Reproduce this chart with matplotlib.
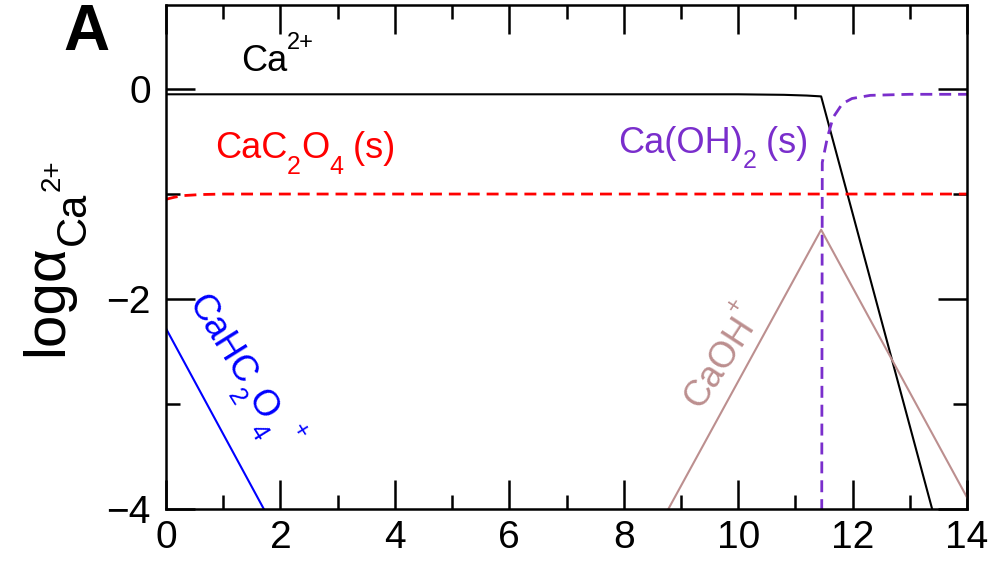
import math
import matplotlib
matplotlib.use("Agg")
import matplotlib.pyplot as plt
from matplotlib.ticker import MultipleLocator
from matplotlib.font_manager import findfont, FontProperties
from matplotlib.ft2font import FT2Font

FAMILY = 'Liberation Sans'
plt.rcParams['font.family'] = [FAMILY, 'DejaVu Sans']

# ---- data ----
ph_ca = [0.0, 10.0, 10.8, 11.2, 11.45, 13.39]
log_ca = [-0.05, -0.05, -0.055, -0.062, -0.07, -4.0]

ph_cac2o4 = [0.0, 0.15, 0.3, 0.6, 1.0, 14.0]
log_cac2o4 = [-1.05, -1.03, -1.015, -1.005, -1.0, -1.0]

ph_caoh2 = [11.46, 11.47, 11.56, 11.66, 11.82, 11.99, 12.31, 13.0, 14.0]
log_caoh2 = [-4.2, -0.7, -0.46, -0.27, -0.14, -0.09, -0.06, -0.05, -0.05]

ph_cahc2o4 = [0.0, 1.71]
log_cahc2o4 = [-2.28, -4.0]

ph_caoh = [8.78, 11.45, 14.0]
log_caoh = [-4.0, -1.34, -3.89]

xticks = [0, 2, 4, 6, 8, 10, 12, 14]
yticks = [-4, -2, 0]
ytick_labels = ['\u22124', '\u22122', '0']

# ---- helpers for rich (sub/superscript) labels ----
_font = FT2Font(findfont(FontProperties(family=FAMILY)))
_font.set_size(100, 72)


def advance(s, size):
    tot = 0.0
    for ch in s:
        g = _font.load_char(ord(ch))
        tot += g.linearHoriAdvance / 65536.0
    return tot * size / 100.0


def rich_text(ax, xy, pieces, color, rotation=0.0, xycoords='data',
              center=False):
    th = math.radians(rotation)
    c, s_ = math.cos(th), math.sin(th)
    total = sum(advance(t, sz) for t, sz, _ in pieces)
    a = -total / 2.0 if center else 0.0
    for t, sz, sh in pieces:
        dx = a * c - sh * s_
        dy = a * s_ + sh * c
        ax.annotate(t, xy=xy, xycoords=xycoords, xytext=(dx, dy),
                    textcoords='offset points', fontsize=sz,
                    color=color, rotation=rotation,
                    rotation_mode='anchor', ha='left',
                    va='baseline', annotation_clip=False)
        a += advance(t, sz)


fig = plt.figure(figsize=(9.95, 5.62), dpi=100)
ax = fig.add_axes([0.1668, 0.0943, 0.8051, 0.8967])

lw = 1.5
dlw = 2.0
ax.plot(ph_ca, log_ca, color='black', lw=lw)
ax.plot(ph_cac2o4, log_cac2o4, color='#ff0000', lw=dlw, ls=(0, (4.3, 2.5)))
ax.plot(ph_caoh2, log_caoh2, color='#7a2ecc', lw=dlw, ls=(0, (4.3, 2.5)))
ax.plot(ph_cahc2o4, log_cahc2o4, color='#0000ff', lw=lw)
ax.plot(ph_caoh, log_caoh, color='#bc8f8f', lw=lw)

ax.set_xlim(0, 14)
ax.set_ylim(-4, 0.8)
ax.set_xticks(xticks)
ax.set_yticks(yticks)
ax.set_xticklabels([str(t) for t in xticks])
ax.set_yticklabels(ytick_labels)
ax.xaxis.set_minor_locator(MultipleLocator(1))
ax.yaxis.set_minor_locator(MultipleLocator(1))
ax.tick_params(which='both', direction='in', top=True, right=True, width=1.8)
ax.tick_params(which='major', length=21, labelsize=28)
ax.tick_params(axis='x', which='major', pad=8)
ax.tick_params(axis='y', which='major', pad=11)
ax.tick_params(which='minor', length=10)
for s in ax.spines.values():
    s.set_linewidth(1.8)

FS = 26
SUB = 18
SUP = 17
DROP = -11
RISE = 16

rich_text(ax, (1.31, 0.171), [('Ca', FS, 0), ('2+', SUP, RISE)], 'black')
rich_text(ax, (0.857, -0.66),
          [('CaC', FS, 0), ('2', SUB, DROP), ('O', FS, 0), ('4', SUB, DROP),
           (' (s)', FS, 0)], '#ff0000')
rich_text(ax, (7.90, -0.61),
          [('Ca(OH)', FS, 0), ('2', SUB, DROP), (' (s)', FS, 0)], '#7a2ecc')
rich_text(ax, (0.37, -2.04),
          [('CaHC', FS, 0), ('2', SUB, DROP), ('O', FS, 0), ('4', SUB, DROP),
           (' +', SUP, RISE)], '#0000ff', rotation=-58)
rich_text(ax, (9.34, -3.06), [('CaOH', FS, 0), ('+', SUP, RISE)], '#bc8f8f',
          rotation=57)

# y-axis label  log alpha_{Ca^{2+}}
rich_text(ax, (62, 562 - 258),
          [('log\u03b1', 42, 0), ('Ca', 30, -16.5), ('2+', 20, 1.5)],
          'black', rotation=90, xycoords='figure pixels', center=True)

fig.text(63 / 995, 1 - 50 / 562, 'A', fontsize=46, fontweight='bold',
         ha='left', va='baseline')

fig.savefig('out.png', dpi=100)
